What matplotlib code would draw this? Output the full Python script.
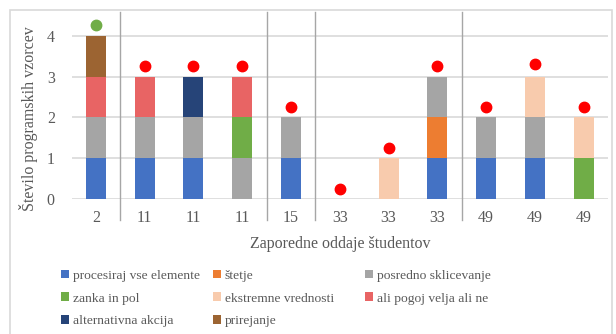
import numpy as np
import matplotlib
matplotlib.use("Agg")
import matplotlib.pyplot as plt
from matplotlib.patches import Rectangle

plt.rcParams['font.family'] = ['Liberation Serif', 'DejaVu Serif']

# oddaje studentov (kategorije na osi x)
oddaje = ["2", "11", "11", "11", "15", "33", "33", "33", "49", "49", "49"]

# stevilo vzorcev po kategorijah (v vrstnem redu legende)
procesiraj = [1, 1, 1, 0, 1, 0, 0, 1, 1, 1, 0]
stetje = [0, 0, 0, 0, 0, 0, 0, 1, 0, 0, 0]
posredno = [1, 1, 1, 1, 1, 0, 0, 1, 1, 1, 0]
zanka = [0, 0, 0, 1, 0, 0, 0, 0, 0, 0, 1]
ekstremne = [0, 0, 0, 0, 0, 0, 1, 0, 0, 1, 1]
ali_pogoj = [1, 1, 0, 1, 0, 0, 0, 0, 0, 0, 0]
alternativna = [0, 0, 1, 0, 0, 0, 0, 0, 0, 0, 0]
prirejanje = [1, 0, 0, 0, 0, 0, 0, 0, 0, 0, 0]

# oznake nad stolpci
tocke = [4.25, 3.25, 3.25, 3.25, 2.25, 0.25, 1.25, 3.25, 2.25, 3.3, 2.25]
tocke_barva = ["#70AD47"] + ["#FF0000"] * 10

# meje med skupinami oddaj
meje = [0.5, 3.5, 4.5, 7.5]

serije = [
    ("procesiraj vse elemente", procesiraj, "#4472C4"),
    ("štetje", stetje, "#ED7D31"),
    ("posredno sklicevanje", posredno, "#A5A5A5"),
    ("zanka in pol", zanka, "#70AD47"),
    ("ekstremne vrednosti", ekstremne, "#F8CBAD"),
    ("ali pogoj velja ali ne", ali_pogoj, "#E86464"),
    ("alternativna akcija", alternativna, "#264478"),
    ("prirejanje", prirejanje, "#9C6432"),
]

txt = "#595959"
W, H = 616, 334
fig = plt.figure(figsize=(W / 100, H / 100), dpi=100)
fig.patches.append(Rectangle((10 / W, -0.01), 602 / W, 1 - 10 / H + 0.01,
                             transform=fig.transFigure, fill=False,
                             edgecolor="#D9D9D9", linewidth=1.2))

ax = fig.add_axes([71.5 / W, 1 - 199 / H, 536.5 / W, 187 / H])
x = np.arange(len(oddaje))
dno = np.zeros(len(oddaje))
for ime, vr, barva in serije:
    vr = np.array(vr)
    ax.bar(x, vr, 0.41, bottom=dno, color=barva, label=ime, zorder=3)
    dno += vr

for i in range(len(oddaje)):
    ax.plot(x[i], tocke[i], "o", color=tocke_barva[i], markersize=7.5, zorder=4)

for m in meje:
    ax.plot([m, m], [-0.112, 1], color="#A6A6A6", linewidth=1,
            transform=ax.get_xaxis_transform(), clip_on=False, zorder=2)

ax.set_xlim(-0.5, len(oddaje) - 0.5)
ax.set_ylim(0, 4.58)
ax.set_yticks([0, 1, 2, 3, 4])
ax.set_xticks(x)
ax.set_xticklabels(oddaje)
ax.yaxis.grid(True, color="#D9D9D9", linewidth=1.2, zorder=0)
for s in ax.spines.values():
    s.set_visible(False)
ax.tick_params(axis="both", length=0, labelsize=11.5, colors=txt)
ax.tick_params(axis="y", pad=12)
ax.tick_params(axis="x", pad=8)

ax.set_ylabel("Število programskih vzorcev", fontsize=11.5, color=txt)
ax.yaxis.set_label_coords(-0.062, 0.43)
ax.set_xlabel("Zaporedne oddaje študentov", fontsize=11.5, color=txt)
ax.xaxis.set_label_coords(0.5, -0.2)

hnd, lab = ax.get_legend_handles_labels()
# legenda v treh enako sirokih stolpcih
stolpci = [[0, 3, 6], [1, 4, 7], [2, 5]]
for k, st in enumerate(stolpci):
    leg = fig.legend([hnd[i] for i in st], [lab[i] for i in st],
                     loc="upper left",
                     bbox_to_anchor=((58 + 152 * k) / W, 1 - 267 / H),
                     frameon=False, prop={"family": "Liberation Serif", "size": 9.7},
                     handlelength=0.6, handleheight=0.6, handletextpad=0.3,
                     labelspacing=0.8, borderpad=0.2, borderaxespad=0)
    for t in leg.get_texts():
        t.set_color(txt)

fig.savefig("out.png", dpi=100)
